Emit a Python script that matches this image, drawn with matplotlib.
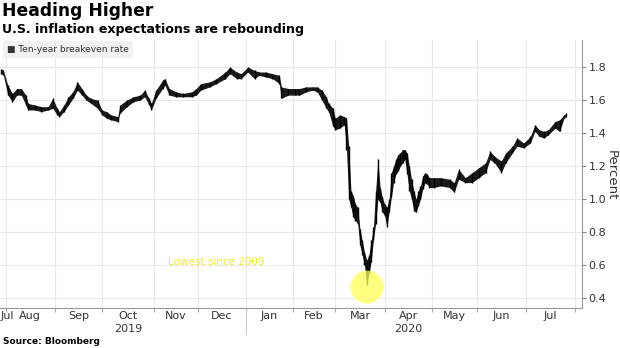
import numpy as np
import matplotlib
matplotlib.use("Agg")
import matplotlib.pyplot as plt
import matplotlib.transforms as mtransforms
from matplotlib.lines import Line2D

# ten-year breakeven rate (date, high, low)
dates = ['2019-07-30','2019-07-31','2019-08-02','2019-08-06','2019-08-08','2019-08-12','2019-08-14','2019-08-15',
         '2019-08-20','2019-08-23','2019-08-28','2019-08-30','2019-09-03','2019-09-04','2019-09-06','2019-09-10',
         '2019-09-12','2019-09-16','2019-09-18','2019-09-20','2019-09-24','2019-09-27','2019-10-01','2019-10-03',
         '2019-10-07','2019-10-10','2019-10-11','2019-10-16','2019-10-21','2019-10-24','2019-10-28','2019-10-30',
         '2019-10-31','2019-11-04','2019-11-07','2019-11-08','2019-11-12','2019-11-15','2019-11-20','2019-11-26',
         '2019-11-29','2019-12-03','2019-12-09','2019-12-12','2019-12-18','2019-12-20','2019-12-26','2019-12-30',
         '2020-01-03','2020-01-08','2020-01-10','2020-01-15','2020-01-21','2020-01-24','2020-01-27','2020-01-30',
         '2020-02-04','2020-02-06','2020-02-11','2020-02-14','2020-02-19','2020-02-21','2020-02-25','2020-02-26',
         '2020-02-28','2020-03-02','2020-03-04','2020-03-06','2020-03-09','2020-03-10','2020-03-11','2020-03-12',
         '2020-03-13','2020-03-16','2020-03-17','2020-03-18','2020-03-19','2020-03-20','2020-03-23','2020-03-24',
         '2020-03-25','2020-03-26','2020-03-27','2020-03-30','2020-03-31','2020-04-01','2020-04-02','2020-04-03',
         '2020-04-06','2020-04-07','2020-04-08','2020-04-09','2020-04-13','2020-04-14','2020-04-15','2020-04-16',
         '2020-04-17','2020-04-20','2020-04-21','2020-04-22','2020-04-23','2020-04-24','2020-04-27','2020-04-28',
         '2020-04-29','2020-04-30','2020-05-04','2020-05-07','2020-05-13','2020-05-15','2020-05-19','2020-05-22',
         '2020-05-28','2020-06-02','2020-06-05','2020-06-09','2020-06-11','2020-06-16','2020-06-18','2020-06-23',
         '2020-06-25','2020-06-30','2020-07-06','2020-07-08','2020-07-10','2020-07-14','2020-07-16','2020-07-21',
         '2020-07-23','2020-07-27','2020-07-28']
high = [1.79,1.78,1.69,1.64,1.67,1.67,1.63,1.58,1.57,1.56,1.56,1.61,1.55,1.53,1.57,1.62,
        1.65,1.71,1.67,1.63,1.61,1.60,1.54,1.53,1.51,1.50,1.57,1.60,1.62,1.63,1.66,1.61,
        1.58,1.66,1.72,1.73,1.67,1.65,1.64,1.65,1.67,1.70,1.71,1.73,1.77,1.80,1.77,1.76,
        1.80,1.78,1.77,1.77,1.76,1.75,1.68,1.67,1.67,1.67,1.68,1.68,1.68,1.66,1.62,1.58,
        1.55,1.49,1.51,1.50,1.49,1.32,1.05,1.02,0.97,0.95,0.82,0.75,0.68,0.63,0.66,0.75,
        0.83,1.05,1.24,1.07,1.01,0.97,0.95,1.00,1.16,1.20,1.24,1.27,1.28,1.30,1.30,1.28,
        1.20,1.12,1.05,1.00,1.05,1.08,1.14,1.16,1.15,1.13,1.13,1.13,1.12,1.10,1.18,1.13,
        1.16,1.19,1.22,1.29,1.26,1.23,1.28,1.32,1.37,1.34,1.38,1.45,1.42,1.41,1.42,1.47,
        1.48,1.51,1.52]
low = [1.76,1.75,1.63,1.59,1.63,1.63,1.57,1.54,1.54,1.53,1.54,1.55,1.51,1.50,1.53,1.57,
       1.61,1.66,1.63,1.60,1.58,1.55,1.51,1.49,1.48,1.47,1.52,1.56,1.59,1.60,1.62,1.57,
       1.54,1.61,1.67,1.69,1.63,1.62,1.62,1.62,1.63,1.66,1.68,1.70,1.73,1.76,1.73,1.73,
       1.77,1.73,1.75,1.74,1.73,1.70,1.61,1.63,1.63,1.63,1.65,1.66,1.65,1.60,1.55,1.53,
       1.44,1.42,1.43,1.45,1.30,1.00,0.95,0.89,0.87,0.85,0.72,0.66,0.60,0.48,0.55,0.62,
       0.75,0.85,1.00,0.98,0.92,0.90,0.83,0.92,1.01,1.10,1.15,1.17,1.20,1.22,1.24,1.15,
       1.05,1.00,0.93,0.92,0.96,1.00,1.06,1.10,1.09,1.07,1.07,1.08,1.07,1.04,1.12,1.10,
       1.10,1.13,1.16,1.24,1.22,1.16,1.22,1.28,1.32,1.31,1.34,1.41,1.38,1.37,1.39,1.43,
       1.41,1.49,1.50]

months = ['Jul','Aug','Sep','Oct','Nov','Dec','Jan','Feb','Mar','Apr','May','Jun','Jul']
month_starts = ['2019-07-01','2019-08-01','2019-09-01','2019-10-01','2019-11-01','2019-12-01','2020-01-01',
                '2020-02-01','2020-03-01','2020-04-01','2020-05-01','2020-06-01','2020-07-01','2020-08-01']
yticks = [0.4,0.6,0.8,1.0,1.2,1.4,1.6,1.8]
holidays = ['2019-11-28','2019-12-25','2020-01-01','2020-01-20','2020-02-17','2020-04-10','2020-05-25','2020-07-03']

# trading-day axis, like the terminal chart
def tday(d):
    d = np.busday_offset(np.array(d, dtype='datetime64[D]'), 0, roll='forward', holidays=holidays)
    return np.busday_count('2019-09-02', d, holidays=holidays)

x = tday(dates)
mx = tday(month_starts)
xlo, xhi = -24.5, 235.1

fig = plt.figure(figsize=(6.2, 3.48), dpi=100)
ax = fig.add_axes([0, 0.115, 0.939, 0.77])

ax.fill_between(x, low, high, color='#1a1a1a', lw=0, zorder=3)
ax.vlines(x, low, high, color='black', lw=1.0, zorder=3)

ax.set_xlim(xlo, xhi)
ax.set_ylim(0.34, 1.964)
ax.set_xticks(mx[1:])
ax.set_xticklabels([])
ax.set_yticks(yticks)
ax.set_yticklabels(['%.1f' % v for v in yticks])
ax.yaxis.tick_right()
ax.tick_params(axis='y', length=3, color='#888888', labelsize=8, labelcolor='#333333', pad=1.5)
ax.tick_params(axis='x', length=3, color='#aaaaaa')
ax.grid(True, color='#e9e9e9', lw=0.8, zorder=0)
for s in ['top', 'left']:
    ax.spines[s].set_visible(False)
ax.spines['right'].set_color('#999999')
ax.spines['bottom'].set_color('#999999')

# month and year labels under the axis
tr = mtransforms.blended_transform_factory(ax.transData, fig.transFigure)
for i, m in enumerate(months):
    a, b = max(mx[i], xlo), mx[i + 1]
    if i == 0:
        ax.text(xlo + 0.3, 0.092, m, transform=tr, ha='left', va='center', fontsize=8, color='#333333')
    else:
        ax.text((a + b) / 2, 0.092, m, transform=tr, ha='center', va='center', fontsize=8, color='#333333')
ax.text((mx[3] + mx[4]) / 2, 0.055, '2019', transform=tr, ha='center', va='center', fontsize=8, color='#333333')
ax.text((mx[9] + mx[10]) / 2, 0.055, '2020', transform=tr, ha='center', va='center', fontsize=8, color='#333333')
ax.add_line(Line2D([mx[6], mx[6]], [0.04, 0.115], transform=tr, color='#cccccc', lw=0.8, clip_on=False))

# annotation for the March low
low_i = int(np.argmin(low))
ax.scatter([x[low_i]], [0.467], s=560, color='#ffff55', alpha=0.75, edgecolors='none', zorder=4)
ax.text(tday('2019-12-12'), 0.62, 'Lowest since 2009', ha='center', va='center', fontsize=7.5, color='#f0f020', zorder=4)

fig.text(0.003, 0.995, 'Heading Higher', fontsize=12.3, fontweight='bold', va='top', ha='left')
fig.text(0.003, 0.935, 'U.S. inflation expectations are rebounding', fontsize=9.1, fontweight='bold', va='top', ha='left')
fig.text(0.012, 0.859, '\u25a0 Ten-year breakeven rate', fontsize=6.5, va='center', ha='left', color='#333333',
         bbox=dict(boxstyle='square,pad=0.45', fc='#f1f1f1', ec='none'))
fig.text(0.986, 0.497, 'Percent', rotation=270, fontsize=9.5, va='center', ha='center', color='#333333')
fig.text(0.005, 0.02, 'Source: Bloomberg', fontsize=6.5, fontweight='bold', va='center', ha='left')

fig.savefig('out.png', dpi=100)
